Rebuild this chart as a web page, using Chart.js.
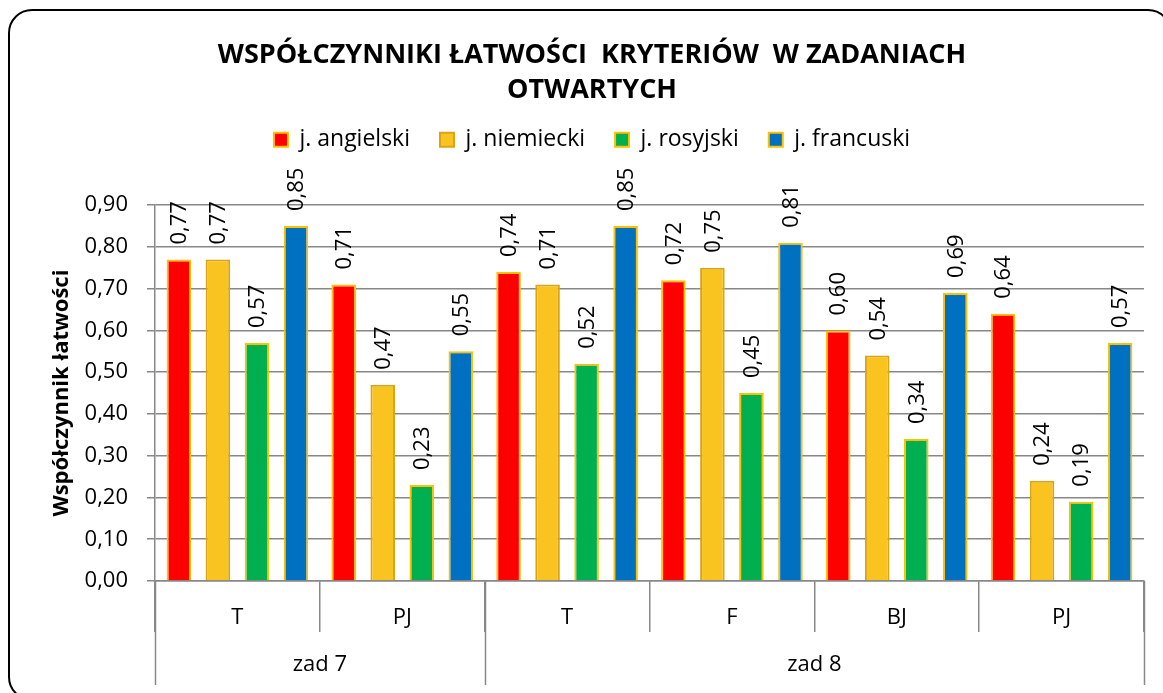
<!DOCTYPE html>
<html>
<head>
<meta charset="utf-8">
<script src="https://cdn.jsdelivr.net/npm/chart.js@4.4.1/dist/chart.umd.min.js"></script>
<style>
  html, body { margin: 0; padding: 0; background: #fff; overflow: hidden; }
  #wrap { position: relative; width: 1163px; height: 693px; }
  #frame {
    position: absolute; left: 8px; top: 9px; width: 1160px; height: 688px;
    border: 2px solid #000; border-radius: 24px; pointer-events: none;
  }
</style>
</head>
<body>
<div id="wrap">
  <canvas id="myChart" width="1163" height="693"></canvas>
  <div id="frame"></div>
</div>
<script>
// dane
var kategorie = ["T", "PJ", "T", "F", "BJ", "PJ"];
var zadania = ["zad 7", "zad 8"];
var zadaniaIle = [2, 4]; // ile kategorii w każdym zadaniu
var angielski = [0.77, 0.71, 0.74, 0.72, 0.60, 0.64];
var niemiecki = [0.77, 0.47, 0.71, 0.75, 0.54, 0.24];
var rosyjski = [0.57, 0.23, 0.52, 0.45, 0.34, 0.19];
var francuski = [0.85, 0.55, 0.85, 0.81, 0.69, 0.57];
var tytul = ["WSPÓŁCZYNNIKI ŁATWOŚCI  KRYTERIÓW  W ZADANIACH", "OTWARTYCH"];
var tytulOsiY = "Współczynnik łatwości";

var FONT = "'Open Sans', 'DejaVu Sans', sans-serif";
var GRAY = "#888888";
Chart.defaults.color = "#000";
Chart.defaults.font.family = FONT;

var przecinek = function (v) {
  return Number(v).toFixed(2).replace(".", ",");
};

// etykiety wartości obrócone pionowo nad słupkami
var etykietyWartosci = {
  id: "etykietyWartosci",
  afterDatasetsDraw: function (chart) {
    var ctx = chart.ctx;
    ctx.save();
    ctx.font = "22px " + FONT;
    ctx.fillStyle = "#000";
    ctx.textAlign = "left";
    ctx.textBaseline = "middle";
    chart.data.datasets.forEach(function (ds, i) {
      var meta = chart.getDatasetMeta(i);
      meta.data.forEach(function (bar, j) {
        ctx.save();
        ctx.translate(bar.x, bar.y - 15);
        ctx.rotate(-Math.PI / 2);
        ctx.fillText(przecinek(ds.data[j]), 0, 1);
        ctx.restore();
      });
    });
    ctx.restore();
  }
};

// drugi poziom osi X (zad 7 / zad 8)
var osGrupy = {
  id: "osGrupy",
  afterDraw: function (chart) {
    var ctx = chart.ctx;
    var x = chart.scales.x;
    var area = chart.chartArea;
    var krok = x.getPixelForValue(1) - x.getPixelForValue(0);
    ctx.save();
    ctx.strokeStyle = GRAY;
    ctx.lineWidth = 1.5;
    ctx.font = "22px " + FONT;
    ctx.fillStyle = "#000";
    ctx.textAlign = "center";
    ctx.textBaseline = "middle";
    var start = 0;
    var linie = [x.getPixelForValue(0) - krok / 2];
    zadania.forEach(function (nazwa, g) {
      var koniec = start + zadaniaIle[g] - 1;
      var lewo = x.getPixelForValue(start) - krok / 2;
      var prawo = x.getPixelForValue(koniec) + krok / 2;
      linie.push(prawo);
      ctx.fillText(nazwa, (lewo + prawo) / 2, area.bottom + 84);
      start = koniec + 1;
    });
    linie.forEach(function (px) {
      ctx.beginPath();
      ctx.moveTo(Math.round(px) + 0.5, area.bottom);
      ctx.lineTo(Math.round(px) + 0.5, area.bottom + 104);
      ctx.stroke();
    });
    ctx.restore();
  }
};

var ctx = document.getElementById("myChart").getContext("2d");
var chart = new Chart(ctx, {
  type: "bar",
  data: {
    labels: kategorie,
    datasets: [
      { label: "j. angielski", data: angielski, backgroundColor: "#FF0000", borderColor: "#FFC000" },
      { label: "j. niemiecki", data: niemiecki, backgroundColor: "#F9C41F", borderColor: "#D9A514" },
      { label: "j. rosyjski", data: rosyjski, backgroundColor: "#00B050", borderColor: "#FFC000" },
      { label: "j. francuski", data: francuski, backgroundColor: "#0070C0", borderColor: "#FFC000" }
    ]
  },
  options: {
    responsive: false,
    animation: false,
    layout: { padding: { left: 40, right: 19, top: 0, bottom: 0 } },
    datasets: {
      bar: { borderWidth: 2, categoryPercentage: 0.947, barPercentage: 0.63, borderSkipped: "start" }
    },
    plugins: {
      title: {
        display: true,
        text: tytul,
        font: { size: 27, weight: "bold", lineHeight: 1.3 },
        color: "#000",
        padding: { top: 38, bottom: -10 }
      },
      subtitle: {
        display: true,
        text: "",
        weight: 500,
        font: { size: 1, lineHeight: 1 },
        padding: { top: 0, bottom: 43 }
      },
      legend: {
        display: true,
        position: "top",
        labels: { boxWidth: 14, boxHeight: 14, padding: 30, font: { size: 23 }, color: "#000" }
      },
      tooltip: { enabled: false }
    },
    scales: {
      x: {
        grid: { offset: true, drawOnChartArea: false, drawTicks: true, tickLength: 51, color: GRAY, lineWidth: 1.5 },
        border: { color: GRAY, width: 1.5 },
        ticks: { font: { size: 22 }, color: "#000", padding: -27 },
        afterFit: function (s) { s.height = 112; }
      },
      y: {
        min: 0,
        max: 0.9,
        ticks: { stepSize: 0.1, font: { size: 22 }, color: "#000", padding: 19, callback: przecinek },
        grid: { color: GRAY, lineWidth: 1.5, tickLength: 8 },
        border: { color: GRAY, width: 1.5 },
        title: { display: true, text: tytulOsiY, font: { size: 22, weight: "bold" }, color: "#000", padding: { top: 9, bottom: 0 } },
        afterFit: function (s) { s.width = 115; }
      }
    }
  },
  plugins: [etykietyWartosci, osGrupy]
});
</script>
</body>
</html>
